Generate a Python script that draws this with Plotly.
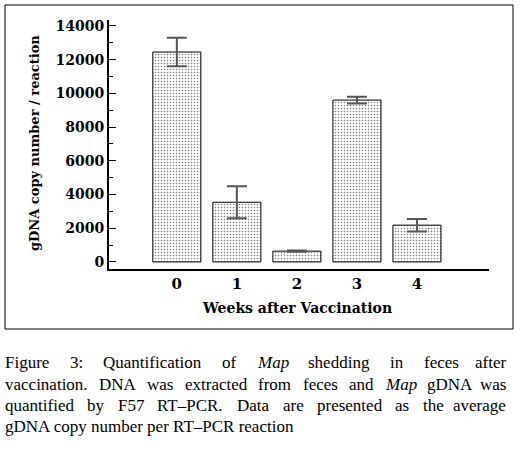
import plotly.graph_objects as go

weeks = ["0", "1", "2", "3", "4"]
copies = [12450, 3540, 640, 9600, 2180]
errors = [850, 950, 40, 200, 370]

W, H = 520, 461


def px(x):
    return x / W


def py(y):
    return 1 - y / H


fig = go.Figure(go.Bar(
    x=weeks,
    y=copies,
    width=0.8,
    marker=dict(
        color="white",
        line=dict(color="black", width=1),
        pattern=dict(shape=".", fgcolor="black", bgcolor="white", size=3, solidity=0.22),
    ),
    error_y=dict(type="data", array=errors, visible=True, color="#555555",
                 thickness=2, width=10),
    hoverinfo="skip",
))

fig.update_layout(
    width=W, height=H,
    margin=dict(l=0, r=0, t=0, b=0),
    paper_bgcolor="white", plot_bgcolor="white",
    showlegend=False,
    font=dict(family="DejaVu Serif", color="black"),
    xaxis=dict(
        domain=[px(109), px(489)],
        range=[-1.13, 5.2],
        automargin=False,
        showline=True, linecolor="black", linewidth=2,
        ticks="", showgrid=False, zeroline=False,
        tickfont=dict(family="DejaVu Serif", size=15, color="black", weight="bold"),
        ticklabelstandoff=0,
    ),
    yaxis=dict(
        domain=[py(269), py(20)],
        range=[-420, 14350],
        automargin=False,
        showline=True, linecolor="black", linewidth=2,
        tickvals=list(range(0, 14001, 2000)),
        tickformat="d",
        ticks="inside", ticklen=7, tickwidth=1, tickcolor="black",
        minor=dict(dtick=1000, ticks="inside", ticklen=4, tickwidth=1, tickcolor="black"),
        showgrid=False, zeroline=False,
        tickfont=dict(family="DejaVu Serif", size=14, color="black", weight="bold"),
    ),
)

# axis titles
fig.add_annotation(x=px(34), y=py(143), xref="paper", yref="paper",
                   xanchor="center", yanchor="middle",
                   text="gDNA copy number / reaction", textangle=-90, showarrow=False,
                   font=dict(family="DejaVu Serif", size=13, color="black", weight="bold"))
fig.add_annotation(x=px(297), y=py(308), xref="paper", yref="paper",
                   xanchor="center", yanchor="middle",
                   text="Weeks after Vaccination", showarrow=False,
                   font=dict(family="DejaVu Serif", size=14, color="black", weight="bold"))

# frame around the chart
fig.add_shape(type="rect", xref="paper", yref="paper",
              x0=px(5), x1=px(513), y0=py(329), y1=py(5),
              line=dict(color="black", width=1))

# caption: justify lines by hand using rough Times widths (per 1000 em)
CAP_SIZE = 17
LEFT, RIGHT = 3, 508
times_w = {
    "a": 444, "b": 500, "c": 444, "d": 500, "e": 444, "f": 333, "g": 500, "h": 500,
    "i": 278, "l": 278, "m": 778, "n": 500, "o": 500, "p": 500, "q": 500, "r": 333,
    "s": 389, "t": 278, "u": 500, "v": 500, "w": 722, "x": 500, "y": 500,
    ".": 250, ":": 278, "3": 500, "5": 500, "7": 500, "–": 500,
    "A": 722, "C": 667, "D": 722, "F": 556, "M": 889, "N": 722, "P": 556, "Q": 722,
    "R": 667, "T": 611,
}


def word_px(word):
    plain = word.replace("<i>", "").replace("</i>", "")
    return sum(times_w.get(ch, 500) for ch in plain) * CAP_SIZE / 1000


cap_font = dict(family="Liberation Serif", size=CAP_SIZE, color="black")
justified = [
    (362, ["Figure", "3:", "Quantification", "of", "<i>Map</i>", "shedding", "in",
           "feces", "after"]),
    (384, ["vaccination.", "DNA", "was", "extracted", "from", "feces", "and",
           "<i>Map</i>", "gDNA", "was"]),
    (405, ["quantified", "by", "F57", "RT–PCR.", "Data", "are", "presented", "as",
           "the", "average"]),
]
for yy, words in justified:
    widths = [word_px(w) for w in words]
    gap = (RIGHT - LEFT - sum(widths)) / (len(words) - 1)
    x = LEFT
    for i, w in enumerate(words):
        last = i == len(words) - 1
        fig.add_annotation(x=px(RIGHT if last else x), y=py(yy), xref="paper", yref="paper",
                           text=w, showarrow=False, xanchor="right" if last else "left",
                           yanchor="middle", font=cap_font)
        x += widths[i] + gap
fig.add_annotation(x=px(LEFT), y=py(426), xref="paper", yref="paper",
                   text="gDNA copy number per RT–PCR reaction", showarrow=False,
                   xanchor="left", yanchor="middle", font=cap_font)

# drop the page's default body margin so the figure sits at the window corner
fig.write_html("out.html", config={"displayModeBar": False},
               post_script="document.body.style.margin='0';")
